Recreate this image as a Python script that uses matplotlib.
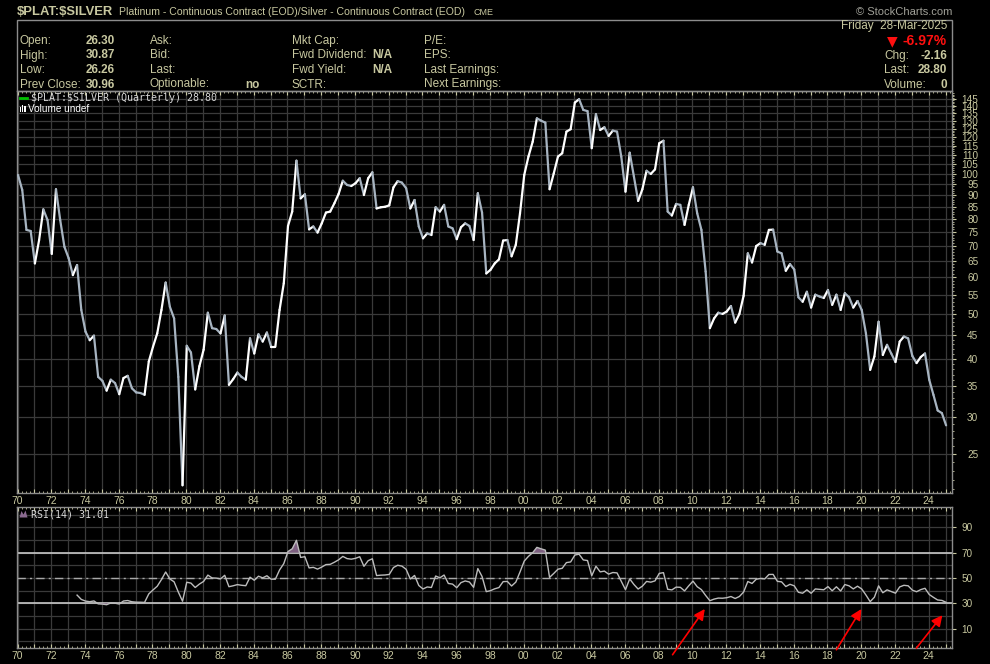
import numpy as np
import pandas as pd
import matplotlib
matplotlib.use("Agg")
import matplotlib.pyplot as plt
from matplotlib.collections import LineCollection
from matplotlib.ticker import FixedLocator, FuncFormatter, NullFormatter
from matplotlib.patches import Rectangle, Polygon
from matplotlib.lines import Line2D

# ---------------- data ----------------
first_quarter = "1970Q1"
ratio_close = [
    99.5, 92.4, 75.8, 75.4, 64.2, 72.1, 83.9, 79.6, 67.3, 92.7,
    79.6, 69.7, 65.9, 60.6, 63.7, 51.0, 45.8, 43.9, 44.9, 36.6,
    35.9, 34.2, 36.1, 35.5, 33.6, 36.4, 36.8, 34.6, 33.9, 33.8,
    33.5, 39.5, 42.5, 45.4, 51.0, 58.4, 51.8, 48.9, 36.6, 21.4,
    42.7, 41.3, 34.4, 38.6, 41.9, 50.3, 46.6, 46.4, 45.4, 49.6,
    35.2, 36.2, 37.4, 36.6, 36.1, 44.3, 41.1, 45.2, 43.6, 45.6,
    42.5, 42.5, 51.0, 58.2, 77.3, 83.0, 106.8, 88.6, 90.4, 76.0,
    77.1, 74.8, 78.3, 82.6, 83.0, 86.5, 90.6, 96.7, 94.7, 94.2,
    95.5, 97.9, 90.1, 97.9, 100.8, 84.3, 84.8, 85.0, 85.6, 93.6,
    96.5, 95.8, 93.2, 84.3, 87.9, 77.1, 72.7, 74.5, 73.9, 84.8,
    83.0, 85.8, 77.1, 76.4, 72.4, 76.8, 78.3, 77.3, 72.1, 90.9,
    82.6, 61.1, 62.2, 64.2, 65.5, 71.9, 72.1, 66.5, 70.4, 82.3,
    99.5, 109.0, 117.3, 131.7, 130.2, 128.9, 92.7, 100.3, 109.0, 110.8,
    123.3, 124.8, 142.4, 144.8, 137.3, 136.5, 113.6, 134.4, 124.3, 126.0,
    120.7, 123.9, 123.3, 109.0, 91.6, 111.1, 98.7, 87.5, 92.7, 101.6,
    100.0, 102.3, 116.4, 117.9, 83.0, 81.4, 86.2, 85.8, 77.7, 85.8,
    93.6, 82.3, 75.8, 61.7, 46.6, 48.9, 50.3, 50.0, 50.6, 52.0,
    47.9, 50.0, 54.7, 67.5, 64.5, 70.0, 71.0, 70.4, 75.8, 75.9,
    68.1, 67.5, 61.9, 64.0, 62.3, 54.3, 53.1, 55.8, 51.6, 55.0,
    54.5, 54.1, 56.3, 52.3, 55.0, 51.0, 55.4, 54.3, 51.6, 53.3,
    51.0, 45.4, 37.9, 40.5, 48.1, 40.8, 42.9, 41.1, 39.4, 43.6,
    44.7, 44.3, 40.6, 39.2, 40.4, 41.1, 36.1, 33.5, 31.0, 30.6,
    28.8,
]
rsi_period = 14
price_ticks = list(range(25, 150, 5))
rsi_ticks = [10, 30, 50, 70, 90]

symbol = r"\$PLAT:\$SILVER"
description = "Platinum - Continuous Contract (EOD)/Silver - Continuous Contract (EOD)"
exchange = "CME"
info_cols = [
    (["Open:", "High:", "Low:", "Prev Close:"], ["26.30", "30.87", "26.26", "30.96"]),
    (["Ask:", "Bid:", "Last:", "Optionable:"], ["", "", "", "no"]),
    (["Mkt Cap:", "Fwd Dividend:", "Fwd Yield:", "SCTR:"], ["", "N/A", "N/A", ""]),
    (["P/E:", "EPS:", "Last Earnings:", "Next Earnings:"], ["", "", "", ""]),
]
date_text = "Friday  28-Mar-2025"
pct_change = "-6.97%"
right_labels = ["Chg:", "Last:", "Volume:"]
right_values = ["-2.16", "28.80", "0"]
legend_main = r"\$PLAT:\$SILVER (Quarterly) 28.80"
legend_rsi = "RSI(14) 31.01"

# arrows (tail, head) in (year, RSI) coordinates
arrows = [((2008.82, -10.6), (2010.73, 25.5)),
          ((2018.53, -6.7), (2020.01, 25.5)),
          ((2023.27, -5.4), (2024.81, 20.6))]

# ---------------- derived ----------------
periods = pd.period_range(first_quarter, periods=len(ratio_close), freq="Q")
tyear = np.asarray(periods.year + (periods.quarter - 1) / 4.0 + 0.03, float)
close = np.asarray(ratio_close, float)


def wilder_rsi(v, n):
    d = np.diff(v)
    g = np.clip(d, 0, None)
    l = np.clip(-d, 0, None)
    out = np.full(len(v), np.nan)
    ag, al = g[:n].mean(), l[:n].mean()
    out[n] = 100 - 100 / (1 + ag / al)
    for i in range(n, len(d)):
        ag = (ag * (n - 1) + g[i]) / n
        al = (al * (n - 1) + l[i]) / n
        out[i + 1] = 100.0 if al == 0 else 100 - 100 / (1 + ag / al)
    return out


rsi = wilder_rsi(close, rsi_period)

# ---------------- style ----------------
W, H = 990, 664
TAN = "#c8c8a0"
GRID = "#3a3a3a"
SPINE = "#8c8c8c"
SANS = ["Liberation Sans", "DejaVu Sans"]
MONO = ["DejaVu Sans Mono"]


def fx(x):
    return x / W


def fy(y):
    return 1 - y / H


fig = plt.figure(figsize=(W / 100, H / 100), dpi=100, facecolor="black")

x0, x1 = 17, 952
ax = fig.add_axes([fx(x0), fy(493), (x1 - x0) / W, (493 - 91) / H], facecolor="black")
ax2 = fig.add_axes([fx(x0), fy(648), (x1 - x0) / W, (648 - 507) / H], facecolor="black")

xlim = (1969.97, 2025.38)


def year_fmt(v, pos):
    iv = int(round(v))
    if iv % 2:
        return ""
    return f"{iv % 100:02d}"


for a in (ax, ax2):
    a.set_xlim(*xlim)
    for s in a.spines.values():
        s.set_color(SPINE)
        s.set_linewidth(1.0)
    a.xaxis.set_major_locator(FixedLocator(list(range(1970, 2026))))
    a.xaxis.set_major_formatter(FuncFormatter(year_fmt))
    a.xaxis.set_minor_locator(FixedLocator(list(np.arange(1970, 2025.5, 0.25))))
    a.xaxis.set_minor_formatter(NullFormatter())
    a.tick_params(axis="x", which="major", direction="in", length=3, color=TAN,
                  labelcolor=TAN, labelsize=7.5, pad=2, top=True)
    a.tick_params(axis="x", which="minor", direction="in", length=1.5, color=TAN, top=True)
    a.grid(True, which="major", axis="x", color=GRID, lw=0.9)
    a.yaxis.tick_right()
    a.tick_params(axis="y", which="both", direction="out", color=TAN, labelcolor=TAN,
                  labelsize=7.2, left=False)
    a.set_axisbelow(True)
    for lab in a.get_xticklabels():
        lab.set_family(SANS)

# ---- price panel ----
ax.set_yscale("log")
ax.set_ylim(20.6, 150.8)
ax.yaxis.set_major_locator(FixedLocator(price_ticks))
ax.yaxis.set_major_formatter(FuncFormatter(lambda v, p: f"{int(round(v))}"))
ax.yaxis.set_minor_locator(FixedLocator([v for v in range(21, 151) if v % 5]))
ax.yaxis.set_minor_formatter(NullFormatter())
ax.tick_params(axis="y", which="major", length=3, pad=16)
ax.tick_params(axis="y", which="minor", length=1.5)
ax.grid(True, which="major", axis="y", color=GRID, lw=0.9)
for lab in ax.get_yticklabels():
    lab.set_ha("right")
    lab.set_family(SANS)

pts = np.column_stack([tyear, close])
segs = np.stack([pts[:-1], pts[1:]], axis=1)
up = np.diff(close) >= 0
seg_colors = np.where(up, "#ffffff", "#a7b4c1")
lc = LineCollection(segs, colors=list(seg_colors), linewidths=1.6,
                    capstyle="round", joinstyle="round", zorder=3)
ax.add_collection(lc)

# ---- RSI panel ----
ax2.set_ylim(-5.3, 106)
ax2.yaxis.set_major_locator(FixedLocator(rsi_ticks))
ax2.yaxis.set_minor_locator(FixedLocator([0, 20, 40, 60, 80, 100]))
ax2.yaxis.set_minor_formatter(NullFormatter())
ax2.tick_params(axis="y", which="major", length=3, pad=12)
ax2.tick_params(axis="y", which="minor", length=0)
ax2.grid(True, which="both", axis="y", color=GRID, lw=0.9)
for lab in ax2.get_yticklabels():
    lab.set_ha("right")
    lab.set_family(SANS)

ax2.axhline(70, color="#c8c8c8", lw=1.2, zorder=2)
ax2.axhline(30, color="#c8c8c8", lw=1.2, zorder=2)
ax2.axhline(50, color="#a8a8a8", lw=1.0, ls=(0, (6, 3, 1.5, 3)), zorder=2)
valid = ~np.isnan(rsi)
tv, rv = tyear[valid], rsi[valid]
ax2.fill_between(tv, rv, 70, where=rv > 70, interpolate=True, color="#7d5f80", lw=0, zorder=3)
ax2.fill_between(tv, rv, 30, where=rv < 30, interpolate=True, color="#7d5f80", lw=0, zorder=3)
ax2.plot(tv, rv, color="#bcbcbc", lw=1.0, zorder=4)

for (tail, head) in arrows:
    ax2.annotate("", xy=head, xytext=tail, xycoords="data", textcoords="data",
                 annotation_clip=False,
                 arrowprops=dict(arrowstyle="-|>", color="#ff0000", lw=1.2,
                                 mutation_scale=16, shrinkA=0, shrinkB=0), zorder=6)

# ---------------- header ----------------
fig.text(fx(17), fy(12), symbol, color=TAN, fontsize=9.4, fontweight="bold",
         family=SANS, va="center", ha="left")
fig.text(fx(119), fy(12), description, color=TAN, fontsize=7.6, family=SANS,
         va="center", ha="left")
fig.text(fx(473), fy(12.5), exchange, color=TAN, fontsize=6.5, family=SANS,
         va="center", ha="left")
fig.text(fx(952), fy(12), "\u00a9 StockCharts.com", color="#a0a098", fontsize=8,
         family=SANS, va="center", ha="right")

fig.patches.append(Rectangle((fx(17), fy(91)), (952 - 17) / W, (91 - 19.5) / H,
                             transform=fig.transFigure, fill=False,
                             edgecolor=SPINE, lw=1.0))

row_y = [41, 55.5, 70, 84.5]
col_x = [(20, 86), (150, 245), (292, 372), (424, None)]
for (labels, values), (lx, vx) in zip(info_cols, col_x):
    for yv, lab, val in zip(row_y, labels, values):
        fig.text(fx(lx), fy(yv), lab, color=TAN, fontsize=8.5, family=SANS,
                 va="center", ha="left")
        if val and vx is not None:
            fig.text(fx(vx), fy(yv), val, color=TAN, fontsize=8.5, family=SANS,
                     fontweight="bold", va="center", ha="left")

fig.text(fx(947), fy(26.5), date_text, color=TAN, fontsize=8.5, family=SANS,
         va="center", ha="right")
fig.text(fx(947), fy(41), pct_change, color="#ff1010", fontsize=10, family=SANS,
         fontweight="bold", va="center", ha="right")
fig.text(fx(898), fy(41.5), "\u25bc", color="#ff1010", fontsize=10,
         family=["DejaVu Sans"], va="center", ha="right")
for yv, lab, val in zip([56, 70, 84.5], right_labels, right_values):
    fig.text(fx(884), fy(yv), lab, color=TAN, fontsize=8.5, family=SANS,
             va="center", ha="left")
    fig.text(fx(947), fy(yv), val, color=TAN, fontsize=8.5, family=SANS,
             fontweight="bold", va="center", ha="right")

# ---------------- panel legends ----------------
fig.lines.append(Line2D([fx(19.5), fx(26.5)], [fy(98), fy(98)], transform=fig.transFigure,
                        color="#00c000", lw=2))
fig.text(fx(31), fy(98), legend_main, color="#d8d8d8", fontsize=7.2, family=MONO,
         va="center", ha="left")
for bx, bh in [(19.5, 5), (21.8, 7), (24.1, 6)]:
    fig.patches.append(Rectangle((fx(bx), fy(112)), 1.6 / W, bh / H,
                                 transform=fig.transFigure, color="white", lw=0))
fig.text(fx(27.5), fy(108.5), "Volume undef", color="white", fontsize=7.2,
         family=SANS, va="center", ha="left")

fig.patches.append(Polygon([(fx(19.5), fy(517.5)), (fx(21.5), fy(511)), (fx(23.5), fy(514.5)),
                            (fx(25.5), fy(510.5)), (fx(27.5), fy(517.5))],
                           closed=True, transform=fig.transFigure, color="#8a6a90", lw=0))
fig.text(fx(31), fy(514.5), legend_rsi, color="#d8d8d8", fontsize=7.2, family=MONO,
         va="center", ha="left")

fig.savefig("out.png", dpi=100, facecolor="black")
